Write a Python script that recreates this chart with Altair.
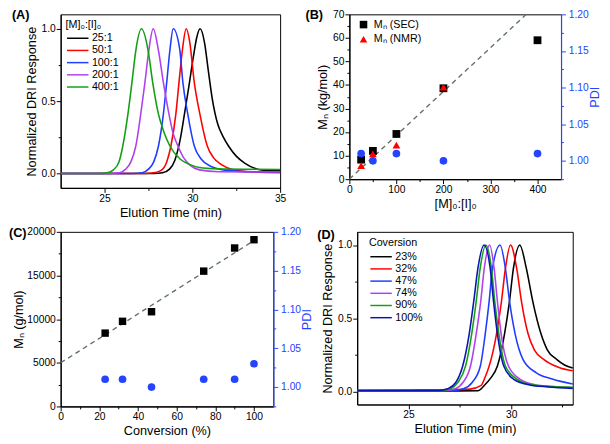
import altair as alt
import pandas as pd

FONT = "Liberation Sans"
BLUE = "#2444ff"
DASH = "#5f706c"

# ---------------- Panel A : SEC traces for [M]0:[I]0 ----------------
a_names = ["25:1", "50:1", "100:1", "200:1", "400:1"]
a_colors = ["#000000", "#ff0000", "#1f3cff", "#b040f0", "#12a012"]
a_x = [
    [22.5, 27.8, 28.3, 28.7, 29.0, 29.3, 29.55, 29.8, 30.05, 30.25, 30.44, 30.7, 30.9, 31.13, 31.45, 31.75, 32.06, 32.5, 33.0, 33.7, 34.3, 35.0],
    [22.5, 27.3, 27.7, 28.2, 28.54, 28.78, 29.06, 29.24, 29.43, 29.65, 29.85, 30.11, 30.43, 30.85, 31.2, 31.68, 32.33, 33.5, 35.0],
    [22.5, 26.6, 27.15, 27.5, 27.8, 28.07, 28.35, 28.54, 28.72, 28.91, 29.28, 29.46, 29.74, 30.11, 30.5, 31.04, 32.05, 33.5, 35.0],
    [22.5, 25.3, 25.85, 26.2, 26.5, 26.78, 27.06, 27.3, 27.52, 27.77, 28.07, 28.35, 28.67, 28.9, 29.18, 29.5, 29.85, 30.4, 31.5, 35.0],
    [22.5, 24.6, 25.2, 25.5, 25.82, 26.04, 26.33, 26.56, 26.78, 27.1, 27.48, 27.74, 28.07, 28.4, 28.72, 29.3, 29.8, 30.4, 31.5, 33.0, 35.0],
]
a_y = [
    [0.0, 0.0, 0.005, 0.03, 0.09, 0.23, 0.41, 0.6, 0.8, 0.94, 1.0, 0.9, 0.72, 0.52, 0.34, 0.255, 0.19, 0.12, 0.07, 0.03, 0.021, 0.018],
    [0.0, 0.0, 0.003, 0.02, 0.08, 0.19, 0.41, 0.63, 0.85, 1.0, 0.91, 0.63, 0.41, 0.19, 0.11, 0.06, 0.026, 0.01, 0.005],
    [0.0, 0.0, 0.005, 0.03, 0.08, 0.19, 0.41, 0.63, 0.85, 1.0, 0.86, 0.63, 0.41, 0.19, 0.1, 0.05, 0.02, 0.012, 0.01],
    [0.0, 0.0, 0.005, 0.03, 0.08, 0.19, 0.41, 0.63, 0.85, 1.0, 0.85, 0.63, 0.41, 0.28, 0.19, 0.11, 0.06, 0.025, 0.012, 0.01],
    [0.0, 0.0, 0.006, 0.025, 0.08, 0.19, 0.41, 0.63, 0.85, 1.0, 0.85, 0.63, 0.41, 0.28, 0.19, 0.1, 0.065, 0.042, 0.032, 0.029, 0.028],
]

# ---------------- Panel B : Mn and PDI vs [M]0:[I]0 ----------------
b_ratio = [25, 50, 100, 200, 400]
b_mn_sec = [8.3, 12.0, 19.2, 38.6, 59.0]
b_ratio_nmr = [25, 50, 100, 200]
b_mn_nmr = [5.8, 10.7, 14.5, 39.1]
b_pdi = [1.01, 1.00, 1.01, 1.00, 1.01]
b_line_x = [0, 376]
b_line_y = [0, 70]
b_series = ["Mₙ (SEC)", "Mₙ (NMR)"]

# ---------------- Panel C : Mn and PDI vs conversion ----------------
c_conv = [23, 32, 47, 74, 90, 100]
c_mn = [8400, 9750, 10850, 15500, 18150, 19100]
c_pdi = [1.01, 1.01, 1.00, 1.01, 1.01, 1.03]
c_line_x = [0, 100]
c_line_y = [5000, 19000]

# ---------------- Panel D : SEC traces vs conversion ----------------
d_names = ["23%", "32%", "47%", "74%", "90%", "100%"]
d_colors = ["#000000", "#ff0000", "#1f3cff", "#b040f0", "#12a012", "#0a14b4"]
d_x = [
    [22.5, 27.5, 28.38, 28.69, 29.0, 29.33, 29.68, 29.92, 30.11, 30.42, 30.74, 31.05, 31.45, 31.76, 32.23, 32.6, 33.0],
    [22.5, 25.5, 27.5, 28.0, 28.54, 28.74, 28.93, 29.29, 29.53, 29.72, 29.97, 30.27, 30.5, 30.82, 31.13, 31.6, 32.3, 33.0],
    [22.5, 26.8, 27.2, 27.67, 28.1, 28.5, 28.74, 28.93, 29.09, 29.46, 29.72, 29.92, 30.19, 30.58, 31.21, 32.0, 33.0],
    [22.5, 26.8, 27.28, 27.65, 28.02, 28.3, 28.52, 28.69, 28.95, 29.17, 29.33, 29.51, 29.87, 30.42, 31.21, 32.0, 33.0],
    [22.5, 26.6, 27.04, 27.4, 27.78, 28.08, 28.3, 28.49, 28.77, 29.04, 29.2, 29.4, 29.72, 30.27, 31.05, 32.0, 33.0],
    [22.5, 26.5, 26.9, 27.3, 27.64, 27.96, 28.18, 28.38, 28.68, 28.98, 29.14, 29.33, 29.64, 30.11, 30.9, 31.8, 33.0],
]
d_y = [
    [0.003, 0.003, 0.004, 0.04, 0.09, 0.173, 0.395, 0.617, 0.84, 1.0, 0.84, 0.617, 0.395, 0.284, 0.217, 0.18, 0.16],
    [0.005, 0.01, 0.012, 0.015, 0.04, 0.1, 0.173, 0.395, 0.617, 0.84, 1.0, 0.84, 0.617, 0.395, 0.284, 0.217, 0.165, 0.14],
    [0.005, 0.005, 0.006, 0.017, 0.06, 0.173, 0.395, 0.617, 0.84, 1.0, 0.84, 0.617, 0.395, 0.217, 0.128, 0.084, 0.05],
    [0.005, 0.005, 0.017, 0.06, 0.173, 0.395, 0.617, 0.84, 1.0, 0.84, 0.617, 0.395, 0.173, 0.084, 0.044, 0.032, 0.025],
    [0.005, 0.005, 0.017, 0.06, 0.173, 0.395, 0.617, 0.84, 1.0, 0.84, 0.617, 0.395, 0.173, 0.084, 0.044, 0.033, 0.028],
    [0.005, 0.005, 0.017, 0.06, 0.173, 0.395, 0.617, 0.84, 1.0, 0.84, 0.617, 0.395, 0.173, 0.084, 0.044, 0.03, 0.02],
]

# tick positions (major + minor)
a_xticks = [25, 27.5, 30, 32.5, 35]
a_yticks = [0, 0.25, 0.5, 0.75, 1.0]
b_xticks = [0, 50, 100, 150, 200, 250, 300, 350, 400]
b_yticks = [0, 5, 10, 15, 20, 25, 30, 35, 40, 45, 50, 55, 60, 65, 70]
pdi_ticks = [0.975, 1.0, 1.025, 1.05, 1.075, 1.1, 1.125, 1.15, 1.175, 1.2]
c_xticks = [0, 10, 20, 30, 40, 50, 60, 70, 80, 90, 100]
c_yticks = [0, 2500, 5000, 7500, 10000, 12500, 15000, 17500, 20000]
d_xticks = [25, 27.5, 30, 32.5]
d_yticks = [0, 0.25, 0.5, 0.75, 1.0]


def curves(names, xs, ys, key):
    rows = []
    for n, xv, yv in zip(names, xs, ys):
        for a, b in zip(xv, yv):
            rows.append({key: n, "t": a, "r": b})
    return pd.DataFrame(rows)


def axis(title, values, major, fmt, **kw):
    return alt.Axis(
        title=title, values=values, format=fmt,
        labelExpr=f"({major}) ? datum.label : ''",
        tickSize={"condition": {"test": f"!({major})", "value": 2.5}, "value": 4.5},
        **kw,
    )


def pdi_axis():
    return axis("PDI", pdi_ticks, "round(datum.value*40) % 2 === 0", ".2f",
                orient="right", titleAngle=270, titleBaseline="top",
                labelColor=BLUE, titleColor=BLUE, tickColor=BLUE, domainColor=BLUE,
                labelPadding=3, titlePadding=0)


def panel_label(txt, dx, dy):
    return alt.Chart(pd.DataFrame({"p": [txt]})).mark_text(
        align="left", baseline="middle", fontSize=13, fontWeight="bold", font=FONT, color="#000"
    ).encode(text="p:N", x=alt.value(dx), y=alt.value(dy))


def line_legend(title, lx, ly):
    return alt.Legend(
        title=title, orient="none", legendX=lx, legendY=ly,
        symbolType="M-1,0H4.5", symbolSize=64, symbolStrokeWidth=1.5,
        labelOffset=16, rowPadding=0.5, titlePadding=3,
        labelFontSize=11, titleFontSize=11, titleFontWeight="normal",
        labelFont=FONT, titleFont=FONT, labelColor="#000", titleColor="#000",
    )


# ---- A ----
dfA = curves(a_names, a_x, a_y, "sa")
lineA = alt.Chart(dfA).mark_line(strokeWidth=1.6, interpolate="monotone").encode(
    x=alt.X("t:Q", scale=alt.Scale(domain=[22.5, 35], nice=False, zero=False),
            axis=axis("Elution Time (min)", a_xticks, "datum.value % 5 === 0", "d")),
    y=alt.Y("r:Q", scale=alt.Scale(domain=[-0.1, 1.1], nice=False, zero=False),
            axis=axis("Normalized DRI Response", a_yticks, "round(datum.value*4) % 2 === 0", ".1f")),
    color=alt.Color("sa:N", scale=alt.Scale(domain=a_names, range=a_colors),
                    legend=line_legend("[M]₀:[I]₀", 5, 5)),
)
A = alt.layer(lineA, panel_label("(A)", -50, 1)).properties(width=225, height=178)

# ---- B ----
bx_axis = axis("[M]₀:[I]₀", b_xticks, "datum.value % 100 === 0", "d")
by_axis = axis("Mₙ (kg/mol)", b_yticks, "datum.value % 10 === 0", "d")
bx_scale = alt.Scale(domain=[0, 450], nice=False, zero=False)
by_scale = alt.Scale(domain=[0, 70], nice=False, zero=False)
dfBl = pd.DataFrame({"x": b_line_x, "y": b_line_y})
dfBp = pd.DataFrame({
    "x": b_ratio + b_ratio_nmr,
    "y": b_mn_sec + b_mn_nmr,
    "sb": [b_series[0]] * len(b_ratio) + [b_series[1]] * len(b_ratio_nmr),
})
dfBd = pd.DataFrame({"x": b_ratio, "p": b_pdi})
legB = alt.Legend(title=None, orient="none", legendX=9, legendY=5, symbolSize=60,
                  labelFontSize=11, labelFont=FONT, labelColor="#000", rowPadding=3, labelOffset=5)
lineB = alt.Chart(dfBl).mark_line(strokeDash=[5, 4], strokeWidth=1.4, color=DASH).encode(
    x=alt.X("x:Q", scale=bx_scale, axis=bx_axis), y=alt.Y("y:Q", scale=by_scale, axis=by_axis))
ptsB = alt.Chart(dfBp).mark_point(filled=True, opacity=1, size=64).encode(
    x=alt.X("x:Q", scale=bx_scale, axis=bx_axis), y=alt.Y("y:Q", scale=by_scale, axis=by_axis),
    color=alt.Color("sb:N", scale=alt.Scale(domain=b_series, range=["#000000", "#ff0000"]), legend=legB),
    shape=alt.Shape("sb:N", scale=alt.Scale(domain=b_series, range=["square", "triangle-up"]), legend=legB),
)
pdiB = alt.Chart(dfBd).mark_circle(size=62, opacity=1, color=BLUE).encode(
    x=alt.X("x:Q", scale=bx_scale, axis=bx_axis),
    y=alt.Y("p:Q", scale=alt.Scale(domain=[0.975, 1.2], nice=False, zero=False), axis=pdi_axis()),
)
B = alt.layer(alt.layer(lineB, ptsB, panel_label("(B)", -45, 1)), pdiB).resolve_scale(y="independent").properties(width=217, height=169)

# ---- C ----
cx_axis = axis("Conversion (%)", c_xticks, "datum.value % 20 === 0", "d")
cy_axis = axis("Mₙ (g/mol)", c_yticks, "datum.value % 5000 === 0", "d", titlePadding=1)
cx_scale = alt.Scale(domain=[0, 110], nice=False, zero=False)
cy_scale = alt.Scale(domain=[0, 20000], nice=False, zero=False)
dfCl = pd.DataFrame({"x": c_line_x, "y": c_line_y})
dfCp = pd.DataFrame({"x": c_conv, "y": c_mn})
dfCd = pd.DataFrame({"x": c_conv, "p": c_pdi})
lineC = alt.Chart(dfCl).mark_line(strokeDash=[5, 4], strokeWidth=1.4, color=DASH).encode(
    x=alt.X("x:Q", scale=cx_scale, axis=cx_axis), y=alt.Y("y:Q", scale=cy_scale, axis=cy_axis))
ptsC = alt.Chart(dfCp).mark_square(size=58, opacity=1, color="#000000").encode(
    x=alt.X("x:Q", scale=cx_scale, axis=cx_axis), y=alt.Y("y:Q", scale=cy_scale, axis=cy_axis))
pdiC = alt.Chart(dfCd).mark_circle(size=62, opacity=1, color=BLUE).encode(
    x=alt.X("x:Q", scale=cx_scale, axis=cx_axis),
    y=alt.Y("p:Q", scale=alt.Scale(domain=[0.975, 1.2], nice=False, zero=False), axis=pdi_axis()),
)
C = alt.layer(alt.layer(lineC, ptsC, panel_label("(C)", -53, 1)), pdiC).resolve_scale(y="independent").properties(width=218, height=179)

# ---- D ----
dfD = curves(d_names, d_x, d_y, "sd")
lineD = alt.Chart(dfD).mark_line(strokeWidth=1.6, interpolate="monotone").encode(
    x=alt.X("t:Q", scale=alt.Scale(domain=[22.5, 33], nice=False, zero=False),
            axis=axis("Elution Time (min)", d_xticks, "datum.value % 5 === 0", "d")),
    y=alt.Y("r:Q", scale=alt.Scale(domain=[-0.09, 1.09], nice=False, zero=False),
            axis=axis("Normalized DRI Response", d_yticks, "round(datum.value*4) % 2 === 0", ".1f")),
    color=alt.Color("sd:N", scale=alt.Scale(domain=d_names, range=d_colors),
                    legend=line_legend("Coversion", 12, 6)),
)
D = alt.layer(lineD, panel_label("(D)", -41, 3)).properties(width=221, height=177)

row1 = alt.hconcat(A, B, spacing=18).resolve_scale(color="independent", shape="independent")
row2 = alt.hconcat(C, D, spacing=2).resolve_scale(color="independent", shape="independent")

chart = alt.vconcat(row1, row2, spacing=6).resolve_scale(
    color="independent", shape="independent"
).properties(
    padding={"left": 0, "top": -5, "right": 0, "bottom": 0}
).configure(font=FONT).configure_view(
    stroke="#000000", strokeWidth=1
).configure_axis(
    grid=False, labelFont=FONT, titleFont=FONT, labelFontSize=10.5, titleFontSize=13,
    titleFontWeight="normal", labelColor="#000", titleColor="#000", domainColor="#000",
    tickColor="#000", domainWidth=1.2, tickWidth=1, labelPadding=1, titlePadding=3,
    labelFlush=False,
)

chart.save("out.html", embed_options={"renderer": "svg", "actions": False})
